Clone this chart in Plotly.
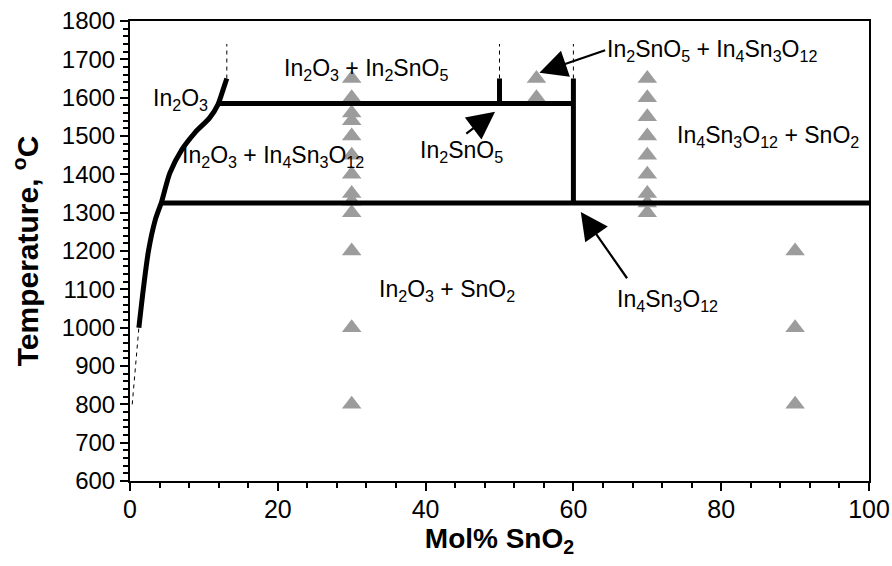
import plotly.graph_objects as go

# In2O3 solvus boundary (mol% SnO2, temperature in °C)
solvus_x = [1.2, 1.8, 2.5, 3.4, 4.3, 5.4, 7.0, 8.8, 10.8, 11.9, 12.6, 13.1]
solvus_t = [1000, 1100, 1200, 1280, 1330, 1404, 1464, 1509, 1548, 1582, 1621, 1650]

# Extrapolated (dashed) continuations
lower_ext_x = [0.3, 1.2]
lower_ext_t = [800, 1000]
upper_ext_x = [13.1, 13.1]
upper_ext_t = [1650, 1740]

# Invariant lines and compound lines
eutectoid_t = 1325
eutectoid_x = [4.3, 100]
peritectoid_t = 1585
peritectoid_x = [12, 60]
in2sno5_x = 50
in2sno5_t = [1585, 1650]
in4sn3o12_x = 60
in4sn3o12_t = [1325, 1650]
dash_top_t = [1650, 1740]

# Experimental points
exp30_t = [1650, 1600, 1560, 1540, 1500, 1450, 1400, 1350, 1330, 1300, 1200, 1000, 800]
exp55_t = [1650, 1600]
exp70_t = [1650, 1600, 1550, 1500, 1450, 1400, 1350, 1325, 1300]
exp90_t = [1200, 1000, 800]

black = "#000000"
grey = "#9c9c9c"
font_family = "Liberation Sans, Arial, sans-serif"
narrow_family = "Liberation Sans Narrow, Liberation Sans, Arial, sans-serif"

fig = go.Figure()

def line(xs, ys, width=5, dash=None, shape="linear"):
    fig.add_trace(go.Scatter(
        x=xs, y=ys, mode="lines",
        line=dict(color=black, width=width, dash=dash, shape=shape, smoothing=0.8),
        hoverinfo="skip", showlegend=False))

# Experimental markers
for xv, ts in [(30, exp30_t), (55, exp55_t), (70, exp70_t), (90, exp90_t)]:
    fig.add_trace(go.Scatter(
        x=[xv] * len(ts), y=ts, mode="markers",
        marker=dict(symbol="triangle-up", size=17, color=grey),
        showlegend=False))

line(solvus_x, solvus_t, width=5, shape="spline")
line(lower_ext_x, lower_ext_t, width=1, dash="4px,4px")
line(upper_ext_x, upper_ext_t, width=1, dash="4px,4px")
line(eutectoid_x, [eutectoid_t] * 2)
line(peritectoid_x, [peritectoid_t] * 2)
line([in2sno5_x] * 2, in2sno5_t)
line([in4sn3o12_x] * 2, in4sn3o12_t)
line([in2sno5_x] * 2, dash_top_t, width=1, dash="4px,4px")
line([in4sn3o12_x] * 2, dash_top_t, width=1, dash="4px,4px")

# Phase field labels
labels = [
    (6.8, 1595, "In<sub>2</sub>O<sub>3</sub>"),
    (31.9, 1673, "In<sub>2</sub>O<sub>3</sub> + In<sub>2</sub>SnO<sub>5</sub>"),
    (19.4, 1446, "In<sub>2</sub>O<sub>3</sub> + In<sub>4</sub>Sn<sub>3</sub>O<sub>12</sub>"),
    (44.9, 1459, "In<sub>2</sub>SnO<sub>5</sub>"),
    (78.8, 1724, "In<sub>2</sub>SnO<sub>5</sub> + In<sub>4</sub>Sn<sub>3</sub>O<sub>12</sub>"),
    (86.3, 1498, "In<sub>4</sub>Sn<sub>3</sub>O<sub>12</sub> + SnO<sub>2</sub>"),
    (42.9, 1098, "In<sub>2</sub>O<sub>3</sub> + SnO<sub>2</sub>"),
    (72.7, 1072, "In<sub>4</sub>Sn<sub>3</sub>O<sub>12</sub>"),
]
for xv, tv, txt in labels:
    fig.add_annotation(x=xv, y=tv, text=txt, showarrow=False,
                       font=dict(family=font_family, size=23, color=black))

# Pointer arrows (tail -> head)
arrows = [
    ((45.3, 1503), (49.4, 1563)),
    ((64.5, 1725), (55.4, 1665)),
    ((67.4, 1125), (61.0, 1302)),
]
for (tx, tt), (hx, ht) in arrows:
    fig.add_annotation(x=hx, y=ht, ax=tx, ay=tt, xref="x", yref="y",
                       axref="x", ayref="y", text="", showarrow=True,
                       arrowhead=2, arrowsize=2.5, arrowwidth=2.2,
                       arrowcolor=black, standoff=0)

fig.update_layout(
    width=892, height=566,
    margin=dict(l=130, r=23, t=21, b=85),
    paper_bgcolor="white", plot_bgcolor="white",
    font=dict(family=font_family, color=black),
    showlegend=False,
)
fig.update_xaxes(
    range=[0, 100], tickvals=[0, 20, 40, 60, 80, 100],
    showgrid=False, zeroline=False, automargin=False,
    showline=True, linecolor=black, linewidth=2, mirror=True,
    ticks="outside", ticklen=8, tickwidth=2, tickcolor=black,
    minor=dict(dtick=4, ticks="outside", ticklen=5, tickwidth=1.5, tickcolor=black),
    tickfont=dict(family=narrow_family, size=25),
    ticklabeloverflow="allow", ticklabelstandoff=-3,
    title=dict(text="<b>Mol% SnO<sub>2</sub></b>",
               font=dict(family=narrow_family, size=28), standoff=4),
)
fig.update_yaxes(
    range=[600, 1800], dtick=100,
    showgrid=False, zeroline=False, automargin=False,
    showline=True, linecolor=black, linewidth=2, mirror=True,
    ticks="outside", ticklen=8, tickwidth=2, tickcolor=black,
    minor=dict(dtick=20, ticks="outside", ticklen=5, tickwidth=1.5, tickcolor=black),
    tickfont=dict(size=24),
    ticklabeloverflow="allow",
    title=dict(text="<b>Temperature, <sup>o</sup>C</b>", font=dict(size=30), standoff=14),
)

fig.write_html("out.html")
